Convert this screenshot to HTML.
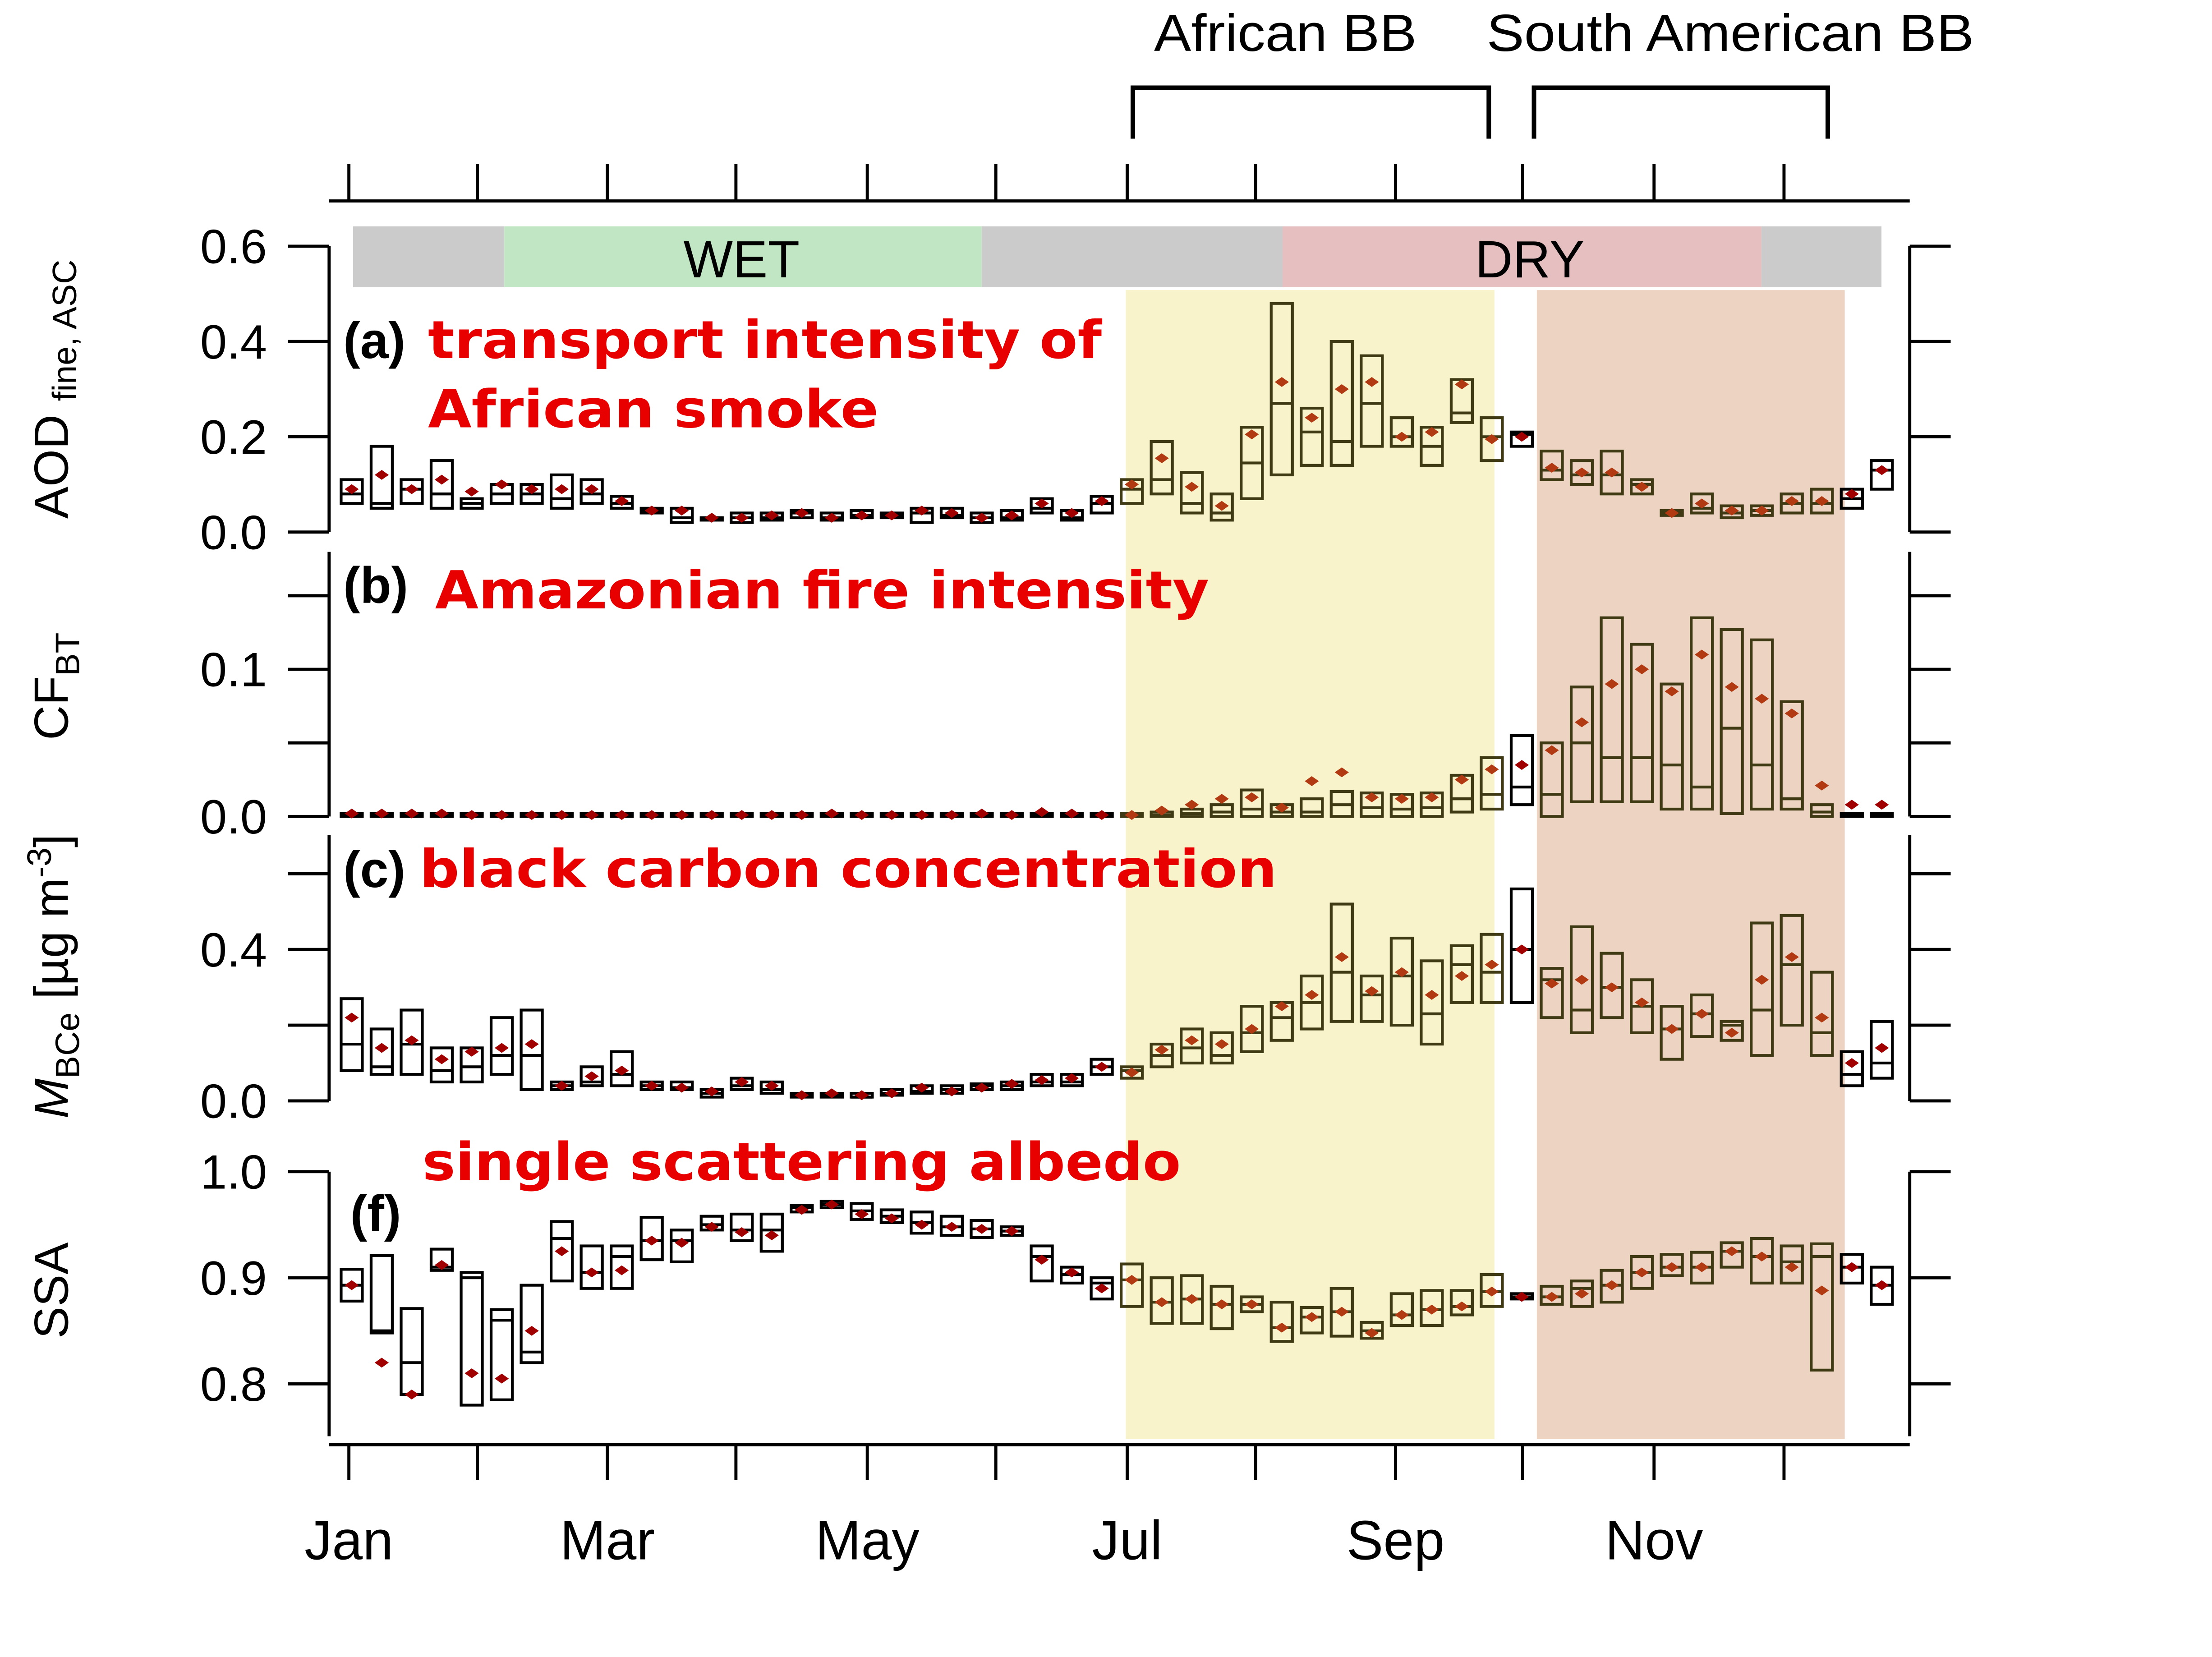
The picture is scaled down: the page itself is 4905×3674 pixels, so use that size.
<!DOCTYPE html>
<html><head><meta charset="utf-8"><style>
html,body{margin:0;padding:0;background:#fff;}
svg{display:block;font-family:"Liberation Sans",Arial,sans-serif;}
</style></head><body>
<svg id="chart" width="4905" height="3674" viewBox="0 0 1566 1171" preserveAspectRatio="none" xmlns="http://www.w3.org/2000/svg">
<g id="bg"></g>
<g id="axes"></g>
<g id="marks"></g>
<g id="labels"></g>
</svg>
<script>
// ---- data (weekly bins, 52) ----
const months = ["Jan","Mar","May","Jul","Sep","Nov"];
const aodLow  = [.06,.05,.06,.05,.05,.06,.06,.05,.06,.05,.04,.02,.025,.02,.025,.03,.025,.03,.03,.02,.03,.02,.025,.04,.025,.04,.06,.08,.04,.025,.07,.12,.14,.14,.18,.18,.14,.23,.15,.18,.11,.10,.08,.08,.035,.04,.03,.035,.04,.04,.05,.09];
const aodHigh = [.11,.18,.11,.15,.07,.10,.10,.12,.11,.075,.05,.05,.03,.04,.04,.045,.04,.045,.04,.05,.05,.04,.045,.07,.045,.075,.11,.19,.125,.08,.22,.48,.26,.40,.37,.24,.22,.32,.24,.21,.17,.15,.17,.11,.045,.08,.055,.055,.08,.09,.09,.15];
const aodMed  = [.08,.06,.09,.08,.06,.08,.08,.07,.08,.06,.045,.03,.03,.03,.03,.04,.03,.035,.035,.04,.035,.03,.03,.05,.03,.06,.09,.11,.06,.04,.145,.27,.21,.19,.27,.20,.18,.25,.20,.205,.13,.12,.12,.10,.04,.05,.04,.045,.06,.06,.07,.13];
const aodMean = [.09,.12,.09,.11,.085,.10,.09,.09,.09,.065,.045,.045,.03,.03,.035,.04,.03,.035,.035,.045,.04,.03,.035,.06,.04,.065,.10,.155,.095,.055,.205,.315,.24,.30,.315,.20,.21,.31,.195,.20,.135,.125,.125,.095,.04,.06,.045,.045,.065,.065,.08,.13];

const cfLow  = [0,0,0,0,0,0,0,0,0,0,0,0,0,0,0,0,0,0,0,0,0,0,0,0,0,0,0,0,0,0,0,0,0,0,0,0,0,.003,.005,.008,0,.01,.01,.01,.005,.005,.002,.005,.005,0,0,0];
const cfHigh = [.002,.002,.002,.002,.002,.002,.002,.002,.002,.002,.002,.002,.002,.002,.002,.002,.002,.002,.002,.002,.002,.002,.002,.002,.002,.002,.002,.003,.005,.008,.018,.008,.012,.017,.016,.015,.016,.028,.04,.055,.05,.088,.135,.117,.09,.135,.127,.12,.078,.008,.002,.002];
const cfMed  = [.001,.001,.001,.001,.001,.001,.001,.001,.001,.001,.001,.001,.001,.001,.001,.001,.001,.001,.001,.001,.001,.001,.001,.001,.001,.001,.001,.001,.002,.003,.005,.003,.003,.008,.006,.005,.006,.012,.015,.02,.015,.05,.04,.04,.035,.02,.06,.035,.012,.003,.001,.001];
const cfMean = [.002,.002,.002,.002,.001,.001,.001,.001,.001,.001,.001,.001,.001,.001,.001,.001,.002,.001,.001,.001,.001,.002,.001,.003,.002,.001,.001,.004,.008,.012,.013,.006,.024,.03,.013,.012,.013,.025,.032,.035,.045,.064,.09,.10,.085,.11,.088,.08,.07,.021,.008,.008];

const bcLow  = [.08,.07,.07,.05,.05,.07,.03,.03,.04,.04,.03,.03,.01,.03,.02,.01,.01,.01,.015,.02,.02,.03,.03,.04,.04,.07,.06,.09,.10,.10,.13,.16,.19,.21,.21,.20,.15,.26,.26,.26,.22,.18,.22,.18,.11,.17,.16,.12,.20,.12,.04,.06];
const bcHigh = [.27,.19,.24,.14,.14,.22,.24,.05,.09,.13,.05,.05,.03,.06,.05,.02,.02,.02,.03,.04,.04,.045,.05,.07,.07,.11,.09,.15,.19,.18,.25,.26,.33,.52,.33,.43,.37,.41,.44,.56,.35,.46,.39,.32,.25,.28,.21,.47,.49,.34,.13,.21];
const bcMed  = [.15,.09,.15,.08,.09,.12,.12,.04,.05,.07,.04,.035,.02,.04,.03,.015,.015,.01,.02,.025,.03,.04,.04,.05,.05,.09,.08,.12,.14,.12,.18,.22,.26,.34,.28,.33,.23,.36,.34,.40,.32,.24,.30,.25,.19,.23,.20,.24,.36,.18,.07,.10];
const bcMean = [.22,.14,.16,.11,.13,.14,.15,.04,.065,.08,.04,.035,.025,.05,.04,.015,.02,.015,.02,.035,.025,.035,.045,.055,.06,.09,.075,.135,.16,.15,.19,.25,.28,.38,.29,.34,.28,.33,.36,.40,.31,.32,.30,.26,.19,.23,.18,.32,.38,.22,.10,.14];

const ssaLow  = [.878,.848,.79,.907,.78,.785,.82,.897,.89,.89,.917,.915,.945,.935,.925,.962,.966,.955,.952,.942,.94,.938,.94,.897,.895,.88,.873,.857,.857,.852,.868,.84,.848,.845,.843,.855,.855,.865,.873,.88,.875,.873,.877,.89,.902,.895,.91,.895,.895,.813,.895,.875];
const ssaHigh = [.908,.921,.871,.927,.905,.87,.893,.953,.93,.93,.957,.945,.958,.96,.96,.968,.972,.97,.964,.962,.958,.954,.948,.93,.91,.90,.913,.90,.902,.892,.882,.877,.872,.89,.858,.885,.888,.888,.903,.885,.892,.897,.907,.92,.922,.924,.933,.937,.93,.932,.922,.91];
const ssaMed  = [.893,.85,.82,.91,.90,.86,.83,.937,.905,.92,.935,.935,.95,.945,.945,.966,.969,.963,.958,.952,.948,.946,.944,.92,.903,.895,.898,.877,.88,.875,.875,.853,.863,.868,.85,.865,.87,.873,.887,.882,.882,.89,.893,.905,.91,.91,.925,.92,.915,.92,.91,.893];
const ssaMean = [.893,.82,.79,.912,.81,.805,.85,.925,.905,.907,.935,.933,.948,.943,.94,.964,.969,.96,.956,.95,.948,.946,.944,.917,.905,.89,.898,.877,.88,.875,.875,.853,.863,.868,.848,.865,.87,.873,.887,.882,.882,.885,.893,.905,.91,.91,.925,.92,.91,.888,.91,.893];

const NS='http://www.w3.org/2000/svg';
function mk(parent, tag, attrs){const e=document.createElementNS(NS,tag);for(const k in attrs)e.setAttribute(k,attrs[k]);parent.appendChild(e);return e;}
const bg=document.getElementById('bg'), axes=document.getElementById('axes'), marks=document.getElementById('marks'), labels=document.getElementById('labels');

function xw(i){return 249+i*21.24;}
const monthX=[247,338,430,521,614,705,798,889,988,1078,1171,1263];
const L=233, R=1352;

const panels=[
 {name:'aod',top:174,bot:376,ticks:[0,.2,.4,.6],lab:[0,.2,.4,.6],low:aodLow,high:aodHigh,med:aodMed,mean:aodMean,dom:[0,0.6],px:[376,174]},
 {name:'cf',top:390,bot:577,ticks:[0,.05,.1,.15],lab:[0,.1],low:cfLow,high:cfHigh,med:cfMed,mean:cfMean,dom:[0,0.1],px:[577,473]},
 {name:'bc',top:590,bot:778,ticks:[0,.2,.4,.6],lab:[0,.4],low:bcLow,high:bcHigh,med:bcMed,mean:bcMean,dom:[0,0.4],px:[778,671]},
 {name:'ssa',top:828,bot:1015,ticks:[.8,.9,1.0],lab:[.8,.9,1.0],low:ssaLow,high:ssaHigh,med:ssaMed,mean:ssaMean,dom:[0.8,1.0],px:[978,828]}
];
panels.forEach(p=>{p.y=v=>p.px[0]+(v-p.dom[0])*(p.px[1]-p.px[0])/(p.dom[1]-p.dom[0]);});

let r;
r=mk(bg,'rect',{x:797,y:205,width:261,height:812,fill:'#f8f3cb'});


r=mk(bg,'rect',{x:1088,y:205,width:218,height:812,fill:'#edd4c2'});


const seasons=[[250,357,'#cbcbcb','season-transition-1'],[357,695,'#c1e6c4','season-wet'],[695,908,'#cbcbcb','season-transition-2'],[908,1247,'#e6bfc0','season-dry'],[1247,1332,'#cbcbcb','season-transition-3']];
seasons.forEach(s=>{const e=mk(bg,'rect',{x:s[0],y:160,width:s[1]-s[0],height:43,fill:s[2]});

});
let t;
t=mk(labels,'text',{x:525,y:196,'font-size':37,'text-anchor':'middle',fill:'#000'});t.textContent='WET';


t=mk(labels,'text',{x:1083,y:196,'font-size':37,'text-anchor':'middle',fill:'#000'});t.textContent='DRY';



const sw=2.2;
let ln;
ln=mk(axes,'line',{x1:L,x2:R,y1:142,y2:142,stroke:'#000','stroke-width':sw});


ln=mk(axes,'line',{x1:L,x2:R,y1:1021,y2:1021,stroke:'#000','stroke-width':sw});


monthX.forEach((x,i)=>{
 let a=mk(axes,'line',{x1:x,x2:x,y1:116,y2:142,stroke:'#000','stroke-width':sw});
 
 
 let b=mk(axes,'line',{x1:x,x2:x,y1:1021,y2:1046,stroke:'#000','stroke-width':sw});
 
 
 if(i%2===0){let tx=mk(labels,'text',{x:x,y:1102,'font-size':39,'text-anchor':'middle',fill:'#000'});tx.textContent=months[i/2];
 
 }
});
[[802,1054,'African BB',910,'african-bb',186],[1086,1294,'South American BB',1225,'south-american-bb',345]].forEach(b=>{
 let p=mk(axes,'path',{d:`M${b[0]},98 V62 H${b[1]} V98`,fill:'none',stroke:'#000','stroke-width':3.2});
 
 
 let tx=mk(labels,'text',{x:b[3],y:36,'font-size':37,'text-anchor':'middle',fill:'#000',textLength:b[5],lengthAdjust:'spacingAndGlyphs'});tx.textContent=b[2];
 
 
});

panels.forEach(p=>{
 let a=mk(axes,'line',{x1:L,x2:L,y1:p.top,y2:p.bot,stroke:'#000','stroke-width':sw});
 
 
 a=mk(axes,'line',{x1:R,x2:R,y1:p.top,y2:p.bot,stroke:'#000','stroke-width':sw});
 
 
 p.ticks.forEach(v=>{const y=p.y(v);
  let k=mk(axes,'line',{x1:204,x2:L,y1:y,y2:y,stroke:'#000','stroke-width':sw});
  
  
  k=mk(axes,'line',{x1:R,x2:1381,y1:y,y2:y,stroke:'#000','stroke-width':sw});
  
  
 });
 p.lab.forEach(v=>{let tx=mk(labels,'text',{x:189,y:p.y(v)+12,'font-size':34,'text-anchor':'end',fill:'#000'});tx.textContent=v.toFixed(1);
  
  });
 for(let i=0;i<p.low.length;i++){
  const x=xw(i), shaded=(x>797&&x<1058)||(x>1088&&x<1306);
  const col=shaded?'#403a14':'#000', dcol=shaded?'#b23a12':'#a00000';
  const yt=p.y(p.high[i]), yb=p.y(p.low[i]);
  let bx=mk(marks,'rect',{x:x-7.5,y:yt,width:15,height:Math.max(yb-yt,0.5),fill:'none',stroke:col,'stroke-width':2});
  
  
  const ym=p.y(p.med[i]);
  let md=mk(marks,'line',{x1:x-7.5,x2:x+7.5,y1:ym,y2:ym,stroke:col,'stroke-width':2});
  
  
  const yv=p.y(p.mean[i]);
  let dm=mk(marks,'path',{d:`M${x-5},${yv} L${x},${yv-3.5} L${x+5},${yv} L${x},${yv+3.5} Z`,fill:dcol});
  
  
 }
});

function txt(x,y,s,size,fill,name,weight,len){let e=mk(labels,'text',{x:x,y:y,'font-size':size,fill:fill,'font-weight':weight||'normal'});
 if(len){e.setAttribute('textLength',len);e.setAttribute('lengthAdjust','spacingAndGlyphs');e.setAttribute('font-family','DejaVu Sans, Liberation Sans, sans-serif');}
 e.textContent=s;
 
 return e;}
txt(243,253,'(a)',36,'#000','panel-a-label','bold');
txt(303,253,'transport intensity of',37,'#e80000','panel-a-title','bold',477);
txt(303,302,'African smoke',37,'#e80000','panel-a-title-line2','bold',319);
txt(243,426,'(b)',36,'#000','panel-b-label','bold');
txt(308,430,'Amazonian fire intensity',37,'#e80000','panel-b-title','bold',548);
txt(243,627,'(c)',36,'#000','panel-c-label','bold');
txt(297,627,'black carbon concentration',37,'#e80000','panel-c-title','bold',607);
txt(299,834,'single scattering albedo',37,'#e80000','panel-f-title','bold',537);
txt(248,870,'(f)',36,'#000','panel-f-label','bold');

function ytitle(cx,cy,html,name){let e=mk(labels,'text',{x:0,y:0,transform:`translate(${cx},${cy}) rotate(-90)`,'text-anchor':'middle','font-size':34,fill:'#000'});e.innerHTML=html;
 
 }
ytitle(48,275,'AOD <tspan font-size="24" dy="6">fine, ASC</tspan>','aod-y-axis-title');
ytitle(48,485,'CF<tspan font-size="24" dy="8">BT</tspan>','cf-y-axis-title');
ytitle(48,690,'<tspan font-style="italic">M</tspan><tspan font-size="24" dy="8">BCe</tspan><tspan dy="-8"> [µg m</tspan><tspan font-size="24" dy="-12">-3</tspan><tspan dy="12">]</tspan>','bc-y-axis-title');
ytitle(48,912,'SSA','ssa-y-axis-title');
</script>
</body></html>
